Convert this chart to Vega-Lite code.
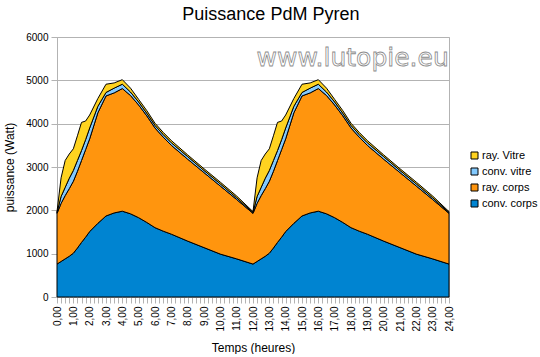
{
"$schema": "https://vega.github.io/schema/vega-lite/v6.json",
"width": 392, "height": 260,
"padding": {"left": 3, "top": 6, "right": 0, "bottom": 0},
"background": "white",
"title": {"text": "Puissance PdM Pyren", "font": "Liberation Sans", "fontSize": 18, "fontWeight": "normal", "color": "black", "anchor": "middle", "frame": "bounds", "offset": 8},
"config": {
  "view": {"stroke": "#b3b3b3"},
  "axis": {"labelFont": "Liberation Sans", "titleFont": "Liberation Sans", "labelColor": "black", "titleColor": "black", "titleFontWeight": "normal", "domainColor": "#b3b3b3", "tickColor": "#b3b3b3", "labelFontSize": 10, "titleFontSize": 12},
  "legend": {"labelFont": "Liberation Sans", "labelFontSize": 11, "labelColor": "black"}
},
"resolve": {"axis": {"x": "independent"}},
"layer": [
 {
  "data": {"values": [
   {"h":0,"s":"conv. corps","w":760},{"h":0,"s":"ray. corps","w":1170},{"h":0,"s":"conv. vitre","w":20},{"h":0,"s":"ray. Vitre","w":20},
   {"h":0.25,"s":"conv. corps","w":820},{"h":0.25,"s":"ray. corps","w":1340},{"h":0.25,"s":"conv. vitre","w":160},{"h":0.25,"s":"ray. Vitre","w":430},
   {"h":0.5,"s":"conv. corps","w":880},{"h":0.5,"s":"ray. corps","w":1460},{"h":0.5,"s":"conv. vitre","w":190},{"h":0.5,"s":"ray. Vitre","w":620},
   {"h":0.75,"s":"conv. corps","w":940},{"h":0.75,"s":"ray. corps","w":1560},{"h":0.75,"s":"conv. vitre","w":240},{"h":0.75,"s":"ray. Vitre","w":560},
   {"h":1,"s":"conv. corps","w":1010},{"h":1,"s":"ray. corps","w":1660},{"h":1,"s":"conv. vitre","w":250},{"h":1,"s":"ray. Vitre","w":500},
   {"h":1.25,"s":"conv. corps","w":1130},{"h":1.25,"s":"ray. corps","w":1770},{"h":1.25,"s":"conv. vitre","w":250},{"h":1.25,"s":"ray. Vitre","w":570},
   {"h":1.5,"s":"conv. corps","w":1260},{"h":1.5,"s":"ray. corps","w":1890},{"h":1.5,"s":"conv. vitre","w":230},{"h":1.5,"s":"ray. Vitre","w":650},
   {"h":1.75,"s":"conv. corps","w":1380},{"h":1.75,"s":"ray. corps","w":2020},{"h":1.75,"s":"conv. vitre","w":230},{"h":1.75,"s":"ray. Vitre","w":430},
   {"h":2,"s":"conv. corps","w":1510},{"h":2,"s":"ray. corps","w":2140},{"h":2,"s":"conv. vitre","w":250},{"h":2,"s":"ray. Vitre","w":300},
   {"h":2.5,"s":"conv. corps","w":1700},{"h":2.5,"s":"ray. corps","w":2550},{"h":2.5,"s":"conv. vitre","w":150},{"h":2.5,"s":"ray. Vitre","w":180},
   {"h":3,"s":"conv. corps","w":1870},{"h":3,"s":"ray. corps","w":2770},{"h":3,"s":"conv. vitre","w":80},{"h":3,"s":"ray. Vitre","w":190},
   {"h":3.5,"s":"conv. corps","w":1940},{"h":3.5,"s":"ray. corps","w":2770},{"h":3.5,"s":"conv. vitre","w":110},{"h":3.5,"s":"ray. Vitre","w":120},
   {"h":4,"s":"conv. corps","w":1980},{"h":4,"s":"ray. corps","w":2830},{"h":4,"s":"conv. vitre","w":100},{"h":4,"s":"ray. Vitre","w":105},
   {"h":4.5,"s":"conv. corps","w":1920},{"h":4.5,"s":"ray. corps","w":2730},{"h":4.5,"s":"conv. vitre","w":80},{"h":4.5,"s":"ray. Vitre","w":90},
   {"h":5,"s":"conv. corps","w":1830},{"h":5,"s":"ray. corps","w":2600},{"h":5,"s":"conv. vitre","w":70},{"h":5,"s":"ray. Vitre","w":60},
   {"h":5.5,"s":"conv. corps","w":1720},{"h":5.5,"s":"ray. corps","w":2460},{"h":5.5,"s":"conv. vitre","w":60},{"h":5.5,"s":"ray. Vitre","w":60},
   {"h":6,"s":"conv. corps","w":1600},{"h":6,"s":"ray. corps","w":2300},{"h":6,"s":"conv. vitre","w":60},{"h":6,"s":"ray. Vitre","w":50},
   {"h":6.5,"s":"conv. corps","w":1520},{"h":6.5,"s":"ray. corps","w":2170},{"h":6.5,"s":"conv. vitre","w":60},{"h":6.5,"s":"ray. Vitre","w":50},
   {"h":7,"s":"conv. corps","w":1450},{"h":7,"s":"ray. corps","w":2050},{"h":7,"s":"conv. vitre","w":60},{"h":7,"s":"ray. Vitre","w":50},
   {"h":8,"s":"conv. corps","w":1290},{"h":8,"s":"ray. corps","w":1890},{"h":8,"s":"conv. vitre","w":60},{"h":8,"s":"ray. Vitre","w":40},
   {"h":9,"s":"conv. corps","w":1140},{"h":9,"s":"ray. corps","w":1730},{"h":9,"s":"conv. vitre","w":50},{"h":9,"s":"ray. Vitre","w":40},
   {"h":10,"s":"conv. corps","w":990},{"h":10,"s":"ray. corps","w":1570},{"h":10,"s":"conv. vitre","w":50},{"h":10,"s":"ray. Vitre","w":40},
   {"h":11,"s":"conv. corps","w":880},{"h":11,"s":"ray. corps","w":1370},{"h":11,"s":"conv. vitre","w":40},{"h":11,"s":"ray. Vitre","w":40},
   {"h":12,"s":"conv. corps","w":760},{"h":12,"s":"ray. corps","w":1170},{"h":12,"s":"conv. vitre","w":20},{"h":12,"s":"ray. Vitre","w":20},
   {"h":12.25,"s":"conv. corps","w":820},{"h":12.25,"s":"ray. corps","w":1340},{"h":12.25,"s":"conv. vitre","w":160},{"h":12.25,"s":"ray. Vitre","w":430},
   {"h":12.5,"s":"conv. corps","w":880},{"h":12.5,"s":"ray. corps","w":1460},{"h":12.5,"s":"conv. vitre","w":190},{"h":12.5,"s":"ray. Vitre","w":620},
   {"h":12.75,"s":"conv. corps","w":940},{"h":12.75,"s":"ray. corps","w":1560},{"h":12.75,"s":"conv. vitre","w":240},{"h":12.75,"s":"ray. Vitre","w":560},
   {"h":13,"s":"conv. corps","w":1010},{"h":13,"s":"ray. corps","w":1660},{"h":13,"s":"conv. vitre","w":250},{"h":13,"s":"ray. Vitre","w":500},
   {"h":13.25,"s":"conv. corps","w":1130},{"h":13.25,"s":"ray. corps","w":1770},{"h":13.25,"s":"conv. vitre","w":250},{"h":13.25,"s":"ray. Vitre","w":570},
   {"h":13.5,"s":"conv. corps","w":1260},{"h":13.5,"s":"ray. corps","w":1890},{"h":13.5,"s":"conv. vitre","w":230},{"h":13.5,"s":"ray. Vitre","w":650},
   {"h":13.75,"s":"conv. corps","w":1380},{"h":13.75,"s":"ray. corps","w":2020},{"h":13.75,"s":"conv. vitre","w":230},{"h":13.75,"s":"ray. Vitre","w":430},
   {"h":14,"s":"conv. corps","w":1510},{"h":14,"s":"ray. corps","w":2140},{"h":14,"s":"conv. vitre","w":250},{"h":14,"s":"ray. Vitre","w":300},
   {"h":14.5,"s":"conv. corps","w":1700},{"h":14.5,"s":"ray. corps","w":2550},{"h":14.5,"s":"conv. vitre","w":150},{"h":14.5,"s":"ray. Vitre","w":180},
   {"h":15,"s":"conv. corps","w":1870},{"h":15,"s":"ray. corps","w":2770},{"h":15,"s":"conv. vitre","w":80},{"h":15,"s":"ray. Vitre","w":190},
   {"h":15.5,"s":"conv. corps","w":1940},{"h":15.5,"s":"ray. corps","w":2770},{"h":15.5,"s":"conv. vitre","w":110},{"h":15.5,"s":"ray. Vitre","w":120},
   {"h":16,"s":"conv. corps","w":1980},{"h":16,"s":"ray. corps","w":2830},{"h":16,"s":"conv. vitre","w":100},{"h":16,"s":"ray. Vitre","w":105},
   {"h":16.5,"s":"conv. corps","w":1920},{"h":16.5,"s":"ray. corps","w":2730},{"h":16.5,"s":"conv. vitre","w":80},{"h":16.5,"s":"ray. Vitre","w":90},
   {"h":17,"s":"conv. corps","w":1830},{"h":17,"s":"ray. corps","w":2600},{"h":17,"s":"conv. vitre","w":70},{"h":17,"s":"ray. Vitre","w":60},
   {"h":17.5,"s":"conv. corps","w":1720},{"h":17.5,"s":"ray. corps","w":2460},{"h":17.5,"s":"conv. vitre","w":60},{"h":17.5,"s":"ray. Vitre","w":60},
   {"h":18,"s":"conv. corps","w":1600},{"h":18,"s":"ray. corps","w":2300},{"h":18,"s":"conv. vitre","w":60},{"h":18,"s":"ray. Vitre","w":50},
   {"h":18.5,"s":"conv. corps","w":1520},{"h":18.5,"s":"ray. corps","w":2170},{"h":18.5,"s":"conv. vitre","w":60},{"h":18.5,"s":"ray. Vitre","w":50},
   {"h":19,"s":"conv. corps","w":1450},{"h":19,"s":"ray. corps","w":2050},{"h":19,"s":"conv. vitre","w":60},{"h":19,"s":"ray. Vitre","w":50},
   {"h":20,"s":"conv. corps","w":1290},{"h":20,"s":"ray. corps","w":1890},{"h":20,"s":"conv. vitre","w":60},{"h":20,"s":"ray. Vitre","w":40},
   {"h":21,"s":"conv. corps","w":1140},{"h":21,"s":"ray. corps","w":1730},{"h":21,"s":"conv. vitre","w":50},{"h":21,"s":"ray. Vitre","w":40},
   {"h":22,"s":"conv. corps","w":990},{"h":22,"s":"ray. corps","w":1570},{"h":22,"s":"conv. vitre","w":50},{"h":22,"s":"ray. Vitre","w":40},
   {"h":23,"s":"conv. corps","w":880},{"h":23,"s":"ray. corps","w":1370},{"h":23,"s":"conv. vitre","w":40},{"h":23,"s":"ray. Vitre","w":40},
   {"h":24,"s":"conv. corps","w":760},{"h":24,"s":"ray. corps","w":1170},{"h":24,"s":"conv. vitre","w":20},{"h":24,"s":"ray. Vitre","w":20}
  ]},
  "transform": [{"calculate": "indexof(['conv. corps','ray. corps','conv. vitre','ray. Vitre'], datum.s)", "as": "o"}],
  "mark": {"type": "area", "stroke": "black", "strokeWidth": 1, "interpolate": "linear"},
  "encoding": {
   "x": {"field": "h", "type": "quantitative", "scale": {"domain": [0, 24], "nice": false},
     "axis": {"orient": "bottom", "title": "Temps (heures)", "grid": false, "values": [0,1,2,3,4,5,6,7,8,9,10,11,12,13,14,15,16,17,18,19,20,21,22,23,24],
       "labelExpr": "replace(format(datum.value, '.2f'), '.', ',')",
       "labelAngle": -90, "labelOverlap": false, "labelBound": false, "labelFlush": false, "labelPadding": 3, "tickSize": 6, "titlePadding": 11}},
   "y": {"field": "w", "type": "quantitative", "stack": "zero", "scale": {"domain": [0, 6000], "nice": false},
     "axis": {"title": "puissance (Watt)", "format": "d", "values": [0,1000,2000,3000,4000,5000,6000], "grid": true, "gridColor": "#b3b3b3", "tickSize": 6, "labelPadding": 3, "titlePadding": 9}},
   "color": {"field": "s", "type": "nominal",
     "scale": {"domain": ["ray. Vitre", "conv. vitre", "ray. corps", "conv. corps"], "range": ["#ffd320", "#83caff", "#ff950e", "#0084d1"]},
     "legend": {"title": null, "orient": "none", "legendX": 412, "legendY": 113, "symbolType": "square", "symbolSize": 49, "symbolStrokeColor": "black", "symbolStrokeWidth": 1, "rowPadding": 4, "labelOffset": 2, "padding": 0}},
   "order": {"field": "o", "type": "quantitative"}
  }
 },
 {
  "data": {"values": [{"t": "www.lutopie.eu", "h": 18.1, "v": 5340}]},
  "mark": {"type": "text", "font": "DejaVu Sans", "fontSize": 25, "fill": "white", "stroke": "#8c8c8c", "strokeWidth": 0.8, "align": "center", "baseline": "alphabetic"},
  "encoding": {
   "x": {"field": "h", "type": "quantitative",
     "axis": {"orient": "bottom", "title": null, "labels": false, "domain": false, "grid": false, "tickSize": 6, "offset": 0,
       "values": [0.25,0.5,0.75,1.25,1.5,1.75,2.25,2.5,2.75,3.25,3.5,3.75,4.25,4.5,4.75,5.25,5.5,5.75,6.25,6.5,6.75,7.25,7.5,7.75,8.25,8.5,8.75,9.25,9.5,9.75,10.25,10.5,10.75,11.25,11.5,11.75,12.25,12.5,12.75,13.25,13.5,13.75,14.25,14.5,14.75,15.25,15.5,15.75,16.25,16.5,16.75,17.25,17.5,17.75,18.25,18.5,18.75,19.25,19.5,19.75,20.25,20.5,20.75,21.25,21.5,21.75,22.25,22.5,22.75,23.25,23.5,23.75]}},
   "y": {"field": "v", "type": "quantitative"},
   "text": {"field": "t"}
  }
 }
]
}
